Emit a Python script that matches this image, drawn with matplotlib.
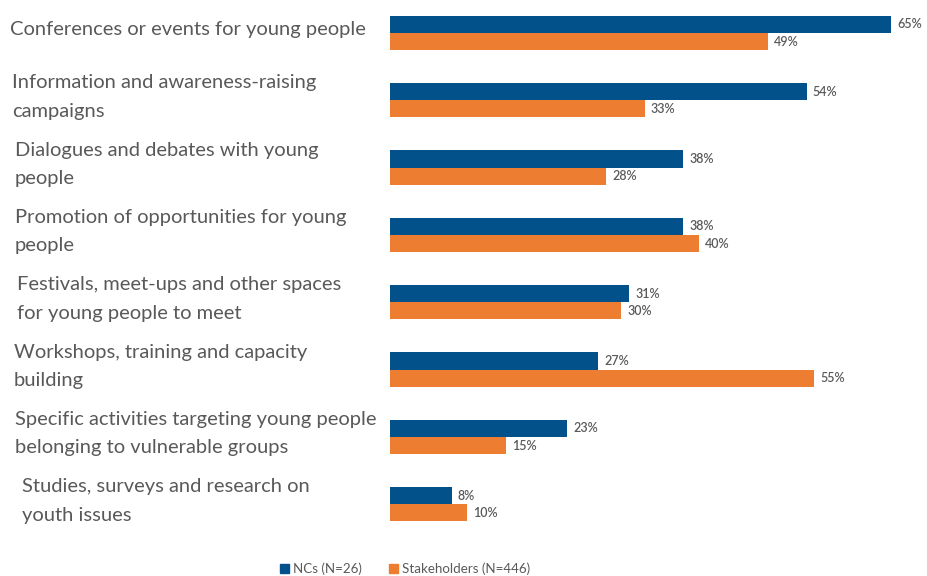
import matplotlib
matplotlib.use("Agg")
import matplotlib.pyplot as plt
from matplotlib.transforms import blended_transform_factory
from matplotlib.patches import Patch

categories = [
    "Conferences or events for young people",
    "Information and awareness-raising\ncampaigns",
    "Dialogues and debates with young\npeople",
    "Promotion of opportunities for young\npeople",
    "Festivals, meet-ups and other spaces\nfor young people to meet",
    "Workshops, training and capacity\nbuilding",
    "Specific activities targeting young people\nbelonging to vulnerable groups",
    "Studies, surveys and research on\nyouth issues",
]
ncs = [65, 54, 38, 38, 31, 27, 23, 8]
stakeholders = [49, 33, 28, 40, 30, 55, 15, 10]
series_names = ["NCs (N=26)", "Stakeholders (N=446)"]

BLUE = "#02518B"
ORANGE = "#ED7D31"
GRAY = "#595959"

W, H = 928, 576
fig = plt.figure(figsize=(W / 100, H / 100), dpi=100)
ax = fig.add_axes([390 / W, 36 / H, 540 / W, 540 / H])

h = 0.255
ys = list(range(len(categories)))
ax.barh([y - h / 2 for y in ys], ncs, height=h, color=BLUE)
ax.barh([y + h / 2 for y in ys], stakeholders, height=h, color=ORANGE)

for y, a, b in zip(ys, ncs, stakeholders):
    for v, yy in ((a, y - h / 2), (b, y + h / 2)):
        ax.annotate(f"{v}%", (v, yy), xytext=(4.5, 0), textcoords="offset points",
                    va="center", ha="left", fontsize=9, color=GRAY,
                    family="Lato", fontweight="semibold")

ax.set_xlim(0, 70)
ax.set_ylim(7.53, -0.49)
ax.axis("off")

# the source labels are not quite flush-left
indent = [10, 12, 15, 15, 17, 14, 15, 22]
trans = blended_transform_factory(fig.transFigure, ax.transData)
for y, lab, dx in zip(ys, categories, indent):
    ax.text(dx / W, y - 0.05, lab, transform=trans, ha="left", va="center",
            fontsize=14.5, color=GRAY, family="Lato", linespacing=1.8)

handles = [Patch(color=BLUE), Patch(color=ORANGE)]
fig.legend(handles, series_names, loc="center", bbox_to_anchor=(405 / W, 1 - 569 / H),
           ncol=2, frameon=False, handlelength=0.7, handleheight=0.7,
           handletextpad=0.3, columnspacing=2.0,
           prop={"family": "Lato", "size": 9.6}, labelcolor=GRAY)

fig.savefig("out.png", dpi=100)
